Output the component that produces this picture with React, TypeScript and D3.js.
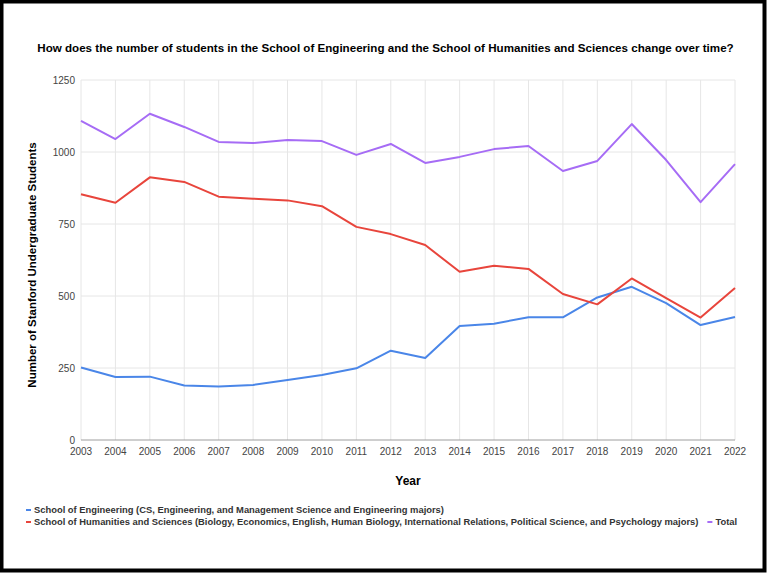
import { useEffect, useRef } from 'react';
import * as d3 from 'd3';

const years = [2003, 2004, 2005, 2006, 2007, 2008, 2009, 2010, 2011, 2012, 2013, 2014, 2015, 2016, 2017, 2018, 2019, 2020, 2021, 2022];
const engineering = [252, 219, 220, 189, 186, 191, 208, 226, 249, 310, 285, 396, 404, 426, 426, 495, 532, 475, 399, 427];
const humanities = [853, 824, 912, 896, 845, 838, 832, 812, 740, 715, 677, 584, 605, 594, 507, 471, 561, 493, 425, 528];
const total = [1108, 1045, 1133, 1087, 1035, 1031, 1042, 1038, 990, 1028, 962, 983, 1010, 1021, 934, 969, 1097, 972, 826, 958];
const yTicks = [0, 250, 500, 750, 1000, 1250];

const seriesNames = [
  'School of Engineering (CS, Engineering, and Management Science and Engineering majors)',
  'School of Humanities and Sciences (Biology, Economics, English, Human Biology, International Relations, Political Science, and Psychology majors)',
  'Total',
];
const seriesColors = ['#4a86e8', '#e8453c', '#a66cf5'];

const W = 767;
const H = 573;
const PLOT = { left: 81, right: 735, top: 80, bottom: 440 };
const FONT = 'Arial, "Liberation Sans", sans-serif';

export default function App() {
  const svgRef = useRef<SVGSVGElement>(null);

  useEffect(() => {
    if (!svgRef.current) return;
    const svg = d3.select(svgRef.current);
    svg.selectAll('*').remove();

    svg.append('rect').attr('x', 0).attr('y', 0).attr('width', W).attr('height', H).attr('fill', '#fff');

    const x = d3.scaleLinear().domain([2003, 2022]).range([PLOT.left, PLOT.right]);
    const y = d3.scaleLinear().domain([0, 1250]).range([PLOT.bottom, PLOT.top]);

    // ── Grid ─────────────────────────────────────────
    const grid = svg.append('g');
    years.forEach(yr => {
      grid.append('line')
        .attr('x1', x(yr)).attr('x2', x(yr))
        .attr('y1', PLOT.top).attr('y2', PLOT.bottom)
        .attr('stroke', '#e6e6e6').attr('stroke-width', 1);
    });
    yTicks.forEach(t => {
      grid.append('line')
        .attr('x1', PLOT.left).attr('x2', PLOT.right)
        .attr('y1', y(t)).attr('y2', y(t))
        .attr('stroke', t === 0 ? '#9e9e9e' : '#e6e6e6').attr('stroke-width', 1);
    });

    // ── Axis labels ──────────────────────────────────
    svg.append('g').selectAll('text').data(yTicks).join('text')
      .attr('x', PLOT.left - 6)
      .attr('y', d => y(d) + 3.5)
      .attr('text-anchor', 'end')
      .attr('font-family', FONT).attr('font-size', 10).attr('fill', '#444')
      .text(d => String(d));

    svg.append('g').selectAll('text').data(years).join('text')
      .attr('x', d => x(d))
      .attr('y', PLOT.bottom + 15)
      .attr('text-anchor', 'middle')
      .attr('font-family', FONT).attr('font-size', 10).attr('fill', '#444')
      .text(d => String(d));

    // ── Lines ────────────────────────────────────────
    const line = d3.line<number>().x((_, i) => x(years[i])).y(d => y(d));
    [engineering, humanities, total].forEach((s, i) => {
      svg.append('path')
        .datum(s)
        .attr('d', line)
        .attr('fill', 'none')
        .attr('stroke', seriesColors[i])
        .attr('stroke-width', 2)
        .attr('stroke-linejoin', 'round');
    });

    // ── Titles ───────────────────────────────────────
    svg.append('text')
      .attr('x', 385.5).attr('y', 52)
      .attr('text-anchor', 'middle')
      .attr('font-family', FONT).attr('font-size', 11.6).attr('font-weight', 'bold').attr('fill', '#000')
      .text('How does the number of students in the School of Engineering and the School of Humanities and Sciences change over time?');

    svg.append('text')
      .attr('transform', `translate(36,${(PLOT.top + PLOT.bottom) / 2 + 5}) rotate(-90)`)
      .attr('text-anchor', 'middle')
      .attr('font-family', FONT).attr('font-size', 11.5).attr('font-weight', 'bold').attr('fill', '#000')
      .text('Number of Stanford Undergraduate Students');

    svg.append('text')
      .attr('x', (PLOT.left + PLOT.right) / 2).attr('y', 485)
      .attr('text-anchor', 'middle')
      .attr('font-family', FONT).attr('font-size', 12).attr('font-weight', 'bold').attr('fill', '#000')
      .text('Year');

    // ── Legend ───────────────────────────────────────
    const legend = svg.append('g').attr('font-family', FONT).attr('font-size', 9.4).attr('font-weight', 'bold').attr('fill', '#333');
    const rows: { i: number; x: number; y: number }[] = [
      { i: 0, x: 26, y: 510 },
      { i: 1, x: 26, y: 522 },
    ];
    rows.forEach(r => {
      legend.append('rect').attr('x', r.x).attr('y', r.y - 1).attr('width', 5).attr('height', 2).attr('fill', seriesColors[r.i]);
      legend.append('text').attr('x', r.x + 8).attr('y', r.y + 3).text(seriesNames[r.i]);
    });
    // Total entry follows the second row
    const t2 = legend.select<SVGTextElement>('text:nth-of-type(2)').node();
    const tx = t2 ? t2.getBBox().x + t2.getBBox().width + 9 : 704;
    legend.append('rect').attr('x', tx).attr('y', 521).attr('width', 5).attr('height', 2).attr('fill', seriesColors[2]);
    legend.append('text').attr('x', tx + 8).attr('y', 525).text(seriesNames[2]);

    // ── Frame ────────────────────────────────────────
    svg.append('rect')
      .attr('x', 1.5).attr('y', 1.5).attr('width', W - 4).attr('height', H - 4)
      .attr('fill', 'none').attr('stroke', '#000').attr('stroke-width', 4);
  }, []);

  return (
    <div style={{ position: 'absolute', left: 0, top: 0 }}>
      <svg ref={svgRef} width={W} height={H} style={{ display: 'block' }} />
    </div>
  );
}
